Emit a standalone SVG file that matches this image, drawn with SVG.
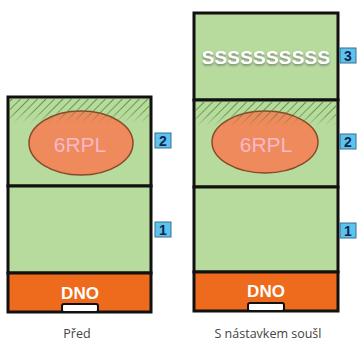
<svg xmlns="http://www.w3.org/2000/svg" width="358" height="344" viewBox="0 0 358 344">
<style>
.sec{fill:#b7db9d;stroke:#111;stroke-width:3}
.dno{fill:#ee6a1c;stroke:#111;stroke-width:3}
.slot{fill:#fff;stroke:#111;stroke-width:2}
.ell{fill:#ef8a5d;stroke:#8a4a2a;stroke-width:1.5}
.rpl{font-family:"Liberation Sans",Arial,sans-serif;font-size:21px;fill:#f8b8c8;text-anchor:middle}
.dnot{font-family:"Liberation Sans",Arial,sans-serif;font-size:17px;font-weight:bold;fill:#fff;text-anchor:middle}
.lb{fill:#5cc3ee;stroke:#3b6f8f;stroke-width:1}
.lbt{font-family:"Liberation Sans",Arial,sans-serif;font-size:14px;font-weight:bold;fill:#13264d;text-anchor:middle}
.cap{font-family:"Open Sans","Liberation Sans",sans-serif;font-size:12.5px;fill:#444;text-anchor:middle}
.ss{font-family:"Liberation Sans",Arial,sans-serif;font-size:19px;font-weight:bold;fill:#fff;text-anchor:middle}
</style>
<defs>
<pattern id="hatch" width="6" height="6" patternUnits="userSpaceOnUse" patternTransform="rotate(45)">
<line x1="0" y1="0" x2="0" y2="6" stroke="#4a7f36" stroke-width="1.6"/>
</pattern>
<linearGradient id="fade" x1="0" y1="0" x2="0" y2="1">
<stop offset="0" stop-color="#fff" stop-opacity="1"/>
<stop offset="0.55" stop-color="#fff" stop-opacity="0.8"/>
<stop offset="1" stop-color="#fff" stop-opacity="0"/>
</linearGradient>
<mask id="m1" maskUnits="userSpaceOnUse" x="0" y="0" width="358" height="344">
<rect x="9" y="99" width="141" height="24" fill="url(#fade)"/>
</mask>
<mask id="m2" maskUnits="userSpaceOnUse" x="0" y="0" width="358" height="344">
<rect x="195" y="102" width="142" height="24" fill="url(#fade)"/>
</mask>
<filter id="sh" x="-10%" y="-30%" width="120%" height="160%">
<feDropShadow dx="0" dy="1.5" stdDeviation="1" flood-color="#666" flood-opacity="0.8"/>
</filter>
</defs>

<g id="left-stack">
<g id="L-sec2">
<rect class="sec" x="8" y="97" width="143" height="89"/>
<ellipse class="ell" cx="81" cy="143" rx="52" ry="32"/>
<rect x="9" y="99" width="141" height="24" fill="url(#hatch)" mask="url(#m1)"/>
<text class="rpl" x="80" y="152">6RPL</text>
</g>
<g id="L-sec1"><rect class="sec" x="8" y="186" width="143" height="87"/></g>
<g id="L-dno">
<rect class="dno" x="8" y="273" width="143" height="39"/>
<text class="dnot" x="80" y="299">DNO</text>
<rect class="slot" x="62" y="304" width="36" height="8" rx="2"/>
</g>
<g id="L-lab2"><rect class="lb" x="155" y="133" width="16" height="15"/><text class="lbt" x="163" y="146">2</text></g>
<g id="L-lab1"><rect class="lb" x="155" y="222" width="16" height="15"/><text class="lbt" x="163" y="235">1</text></g>
<text class="cap" x="77" y="338">Před</text>
</g>

<g id="right-stack">
<g id="R-sec3">
<rect class="sec" x="194" y="13" width="144" height="87"/>
<text class="ss" x="266" y="64" filter="url(#sh)" letter-spacing="0.2">SSSSSSSSSS</text>
</g>
<g id="R-sec2">
<rect class="sec" x="194" y="100" width="144" height="87"/>
<ellipse class="ell" cx="265" cy="142" rx="53" ry="31"/>
<rect x="195" y="102" width="142" height="24" fill="url(#hatch)" mask="url(#m2)"/>
<text class="rpl" x="266" y="152">6RPL</text>
</g>
<g id="R-sec1"><rect class="sec" x="194" y="187" width="144" height="85"/></g>
<g id="R-dno">
<rect class="dno" x="194" y="272" width="144" height="39"/>
<text class="dnot" x="266" y="297">DNO</text>
<rect class="slot" x="248" y="303" width="36" height="8" rx="2"/>
</g>
<g id="R-lab3"><rect class="lb" x="340" y="48" width="16" height="15"/><text class="lbt" x="348" y="61">3</text></g>
<g id="R-lab2"><rect class="lb" x="340" y="134" width="16" height="15"/><text class="lbt" x="348" y="147">2</text></g>
<g id="R-lab1"><rect class="lb" x="340" y="223" width="16" height="15"/><text class="lbt" x="348" y="236">1</text></g>
<text class="cap" x="268" y="338">S nástavkem soušl</text>
</g>
<g id="connectors"></g>
</svg>
